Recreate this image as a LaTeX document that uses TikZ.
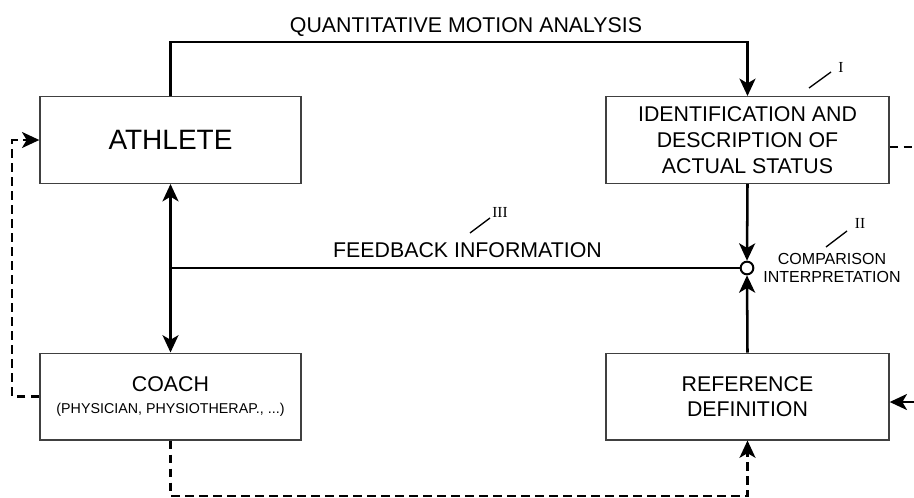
\documentclass[tikz,border=0pt]{standalone}
\usepackage{fontspec}
\setmainfont{Liberation Sans}
\newfontfamily\romanfont{Liberation Serif}
\usetikzlibrary{arrows.meta,calc}
\begin{document}
\begin{tikzpicture}[x=0.75pt,y=-0.75pt,
  box/.style={draw=black!75, line width=1pt, inner sep=0pt, minimum height=65pt, align=center,
    font=\fontsize{16}{19.5}\selectfont},
  narrowbox/.style={box, minimum width=195.75pt},
  widebox/.style={box, minimum width=212.25pt},
  toarr/.style={-{Stealth[length=13pt,width=12pt,inset=3.5pt]}},
  botharr/.style={{Stealth[length=13pt,width=12pt,inset=3.5pt]}-{Stealth[length=13pt,width=12pt,inset=3.5pt]}},
  conn/.style={line width=1.9pt, draw=black},
  dashconn/.style={line width=1.7pt, draw=black, dash pattern=on 6.5pt off 4pt},
  lbl/.style={font=\fontsize{16}{19}\selectfont, inner sep=0pt},
  roman/.style={font=\romanfont\fontsize{11.5}{13}\selectfont, inner sep=0pt},
  tick/.style={line width=1pt}]
\useasboundingbox (0,0) rectangle (914,497);

% boxes
\node[narrowbox, font=\fontsize{21}{25}\selectfont] (athlete) at (170.5,140) {ATHLETE};
\node[widebox] (ident) at (747.5,140) {IDENTIFICATION AND\\DESCRIPTION OF\\ACTUAL STATUS};
\node[narrowbox] (coach) at (170.5,396.5) {COACH\\[-3pt]{\fontsize{10.7}{12}\selectfont (PHYSICIAN, PHYSIOTHERAP., ...)}};
\node[widebox, font=\fontsize{16}{19}\selectfont] (ref) at (747.5,396.5) {REFERENCE\\DEFINITION};
\node[circle, draw, line width=1.5pt, minimum size=9.5pt, inner sep=0pt, fill=white] (cmp) at (747,268) {};

% labels
\node[lbl, anchor=base] (title) at (466,32) {QUANTITATIVE MOTION ANALYSIS};
\node[lbl, anchor=base] (fbl) at (467.5,257) {FEEDBACK INFORMATION};
\node[align=center, inner sep=0pt, font=\fontsize{12}{13.5}\selectfont] (cmpl) at (832,268) {COMPARISON\\INTERPRETATION};
\node[roman] (rI) at (841,67) {I};
\node[roman] (rII) at (860,223) {II};
\node[roman] (rIII) at (500,212.5) {III};
\draw[tick] (809,88) -- (831,72);
\draw[tick] (826,247) -- (847,231);
\draw[tick] (470,233) -- (490,218);

% free ends
\coordinate (identout) at (914,147);
\coordinate (refin) at (914,402);
\coordinate (fb) at (athlete.south |- cmp.west);

% solid connectors
\draw[conn, toarr] (athlete.north) -- (athlete.north |- 0,42) -| (ident.north);
\draw[conn, toarr] (ident.south) -- (cmp.north);
\draw[conn, toarr] (ref.north) -- (cmp.south);
\draw[conn] (cmp.west) -- (fb);
\draw[conn, botharr] (athlete.south) -- (coach.north);
\draw[conn, toarr] (refin) -- (ref.east |- refin);

% dashed connectors
\draw[dashconn, toarr] (coach.west) -- ++(-27,0) |- (athlete.west);
\draw[dashconn, toarr] (coach.south) -- (coach.south |- 0,496) -| (ref.south);
\draw[dashconn] (ident.east |- identout) -- (identout);
\end{tikzpicture}
\end{document}
